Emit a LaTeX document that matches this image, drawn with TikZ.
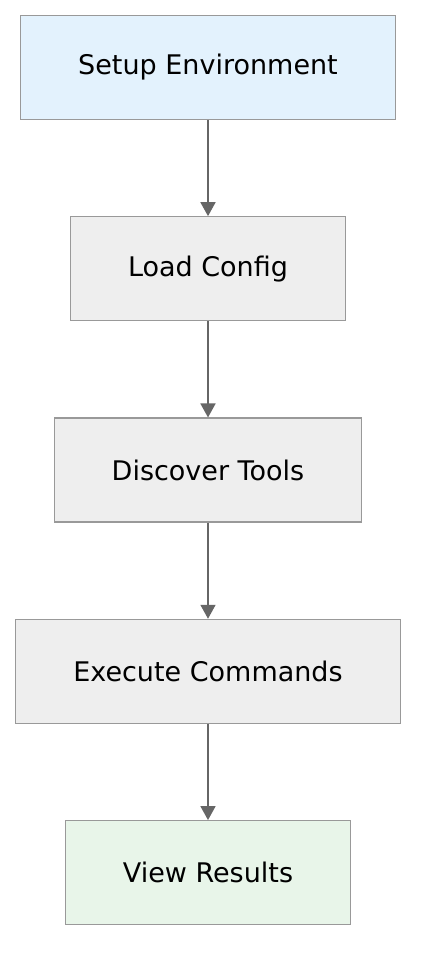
\documentclass[tikz,border=0pt]{standalone}
\usepackage{fontspec}
\setmainfont{DejaVu Sans}
\usetikzlibrary{arrows.meta,positioning}
\definecolor{flStart}{HTML}{E3F2FD}
\definecolor{flStep}{HTML}{EEEEEE}
\definecolor{flEnd}{HTML}{E8F5E9}
\definecolor{flBorder}{HTML}{999999}
\definecolor{flArrow}{HTML}{666666}
\tikzset{
  stepbox/.style={
    draw=flBorder, line width=1.3pt, fill=flStep, minimum height=104pt,
    inner xsep=57.5pt, font=\fontsize{27}{31}\selectfont
  },
  startbox/.style={stepbox, fill=flStart},
  endbox/.style={stepbox, fill=flEnd},
  flow/.style={-{Triangle[length=14pt, width=15pt]}, line width=1.8pt, flArrow}
}
\begin{document}
\begin{tikzpicture}[node distance=96pt]
  \useasboundingbox (0,0) rectangle (432pt,-972pt);
  \node[startbox] (setup) at (208pt,-67.5pt) {Setup Environment};
  \node[stepbox, below=of setup] (load) {Load Config};
  \node[stepbox, below=of load] (discover) {Discover Tools};
  \node[stepbox, below=of discover] (exec) {Execute Commands};
  \node[endbox, below=of exec] (view) {View Results};
  % arrows
  \draw[flow] (setup) -- (load);
  \draw[flow] (load) -- (discover);
  \draw[flow] (discover) -- (exec);
  \draw[flow] (exec) -- (view);
\end{tikzpicture}
\end{document}
